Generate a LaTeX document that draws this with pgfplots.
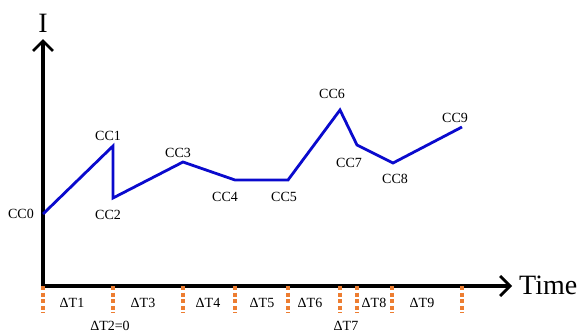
\documentclass[border=0pt]{standalone}
\usepackage{pgfplots}
\pgfplotsset{compat=1.18}
\usepackage{fontspec}
\setmainfont{Liberation Serif}
\usetikzlibrary{arrows.meta}
\definecolor{lineblue}{RGB}{10,10,205}
\definecolor{dashorange}{RGB}{237,125,49}
\begin{document}
\begin{tikzpicture}[lbl/.style={font=\fontsize{14}{16}\selectfont, inner sep=0pt}]
\begin{axis}[
  x=1pt, y=1pt,
  xmin=0, xmax=469, ymin=0, ymax=247,
  axis lines=left,
  axis line style={line width=3.2pt, -{Straight Barb[length=10pt,width=20pt,line width=2.8pt]}},
  xtick=\empty, ytick=\empty,
  clip=false,
]
\addplot[ycomb, dashorange, line width=3.2pt, dash pattern=on 4pt off 2.6pt, no marks]
  coordinates {(0,-27) (70,-27) (140,-27) (192,-27) (245,-27) (297,-27) (314,-27) (349,-27) (419,-27)};
\addplot[lineblue, line width=2.8pt, no marks] coordinates {
  (0,72) (70,140) (70,88) (140,124) (192,106) (245,106) (297,176) (314,141) (350,123) (419,159)};
\node[lbl] at (axis cs:-22,72) {CC0};
\node[lbl] at (axis cs:65,150) {CC1};
\node[lbl] at (axis cs:65,71) {CC2};
\node[lbl] at (axis cs:135,133) {CC3};
\node[lbl] at (axis cs:182,89) {CC4};
\node[lbl] at (axis cs:241,89) {CC5};
\node[lbl] at (axis cs:289,192) {CC6};
\node[lbl] at (axis cs:306,123) {CC7};
\node[lbl] at (axis cs:352,107) {CC8};
\node[lbl] at (axis cs:412,168) {CC9};
\node[lbl] at (axis cs:29,-17) {ΔT1};
\node[lbl] at (axis cs:100,-17) {ΔT3};
\node[lbl] at (axis cs:165,-17) {ΔT4};
\node[lbl] at (axis cs:219,-17) {ΔT5};
\node[lbl] at (axis cs:267,-17) {ΔT6};
\node[lbl] at (axis cs:331,-17) {ΔT8};
\node[lbl] at (axis cs:379,-17) {ΔT9};
\node[lbl] at (axis cs:67,-40) {ΔT2=0};
\node[lbl] at (axis cs:303,-40) {ΔT7};
\node[font=\fontsize{28}{30}\selectfont, inner sep=0pt] at (axis cs:0,263) {I};
\node[font=\fontsize{28}{30}\selectfont, inner sep=0pt, anchor=west] at (axis cs:476,1) {Time};
\coordinate (bl) at (axis cs:-43,-47);
\coordinate (tr) at (axis cs:540,286);
\end{axis}
\pgfresetboundingbox
\useasboundingbox (bl) rectangle (tr);
\end{tikzpicture}
\end{document}
